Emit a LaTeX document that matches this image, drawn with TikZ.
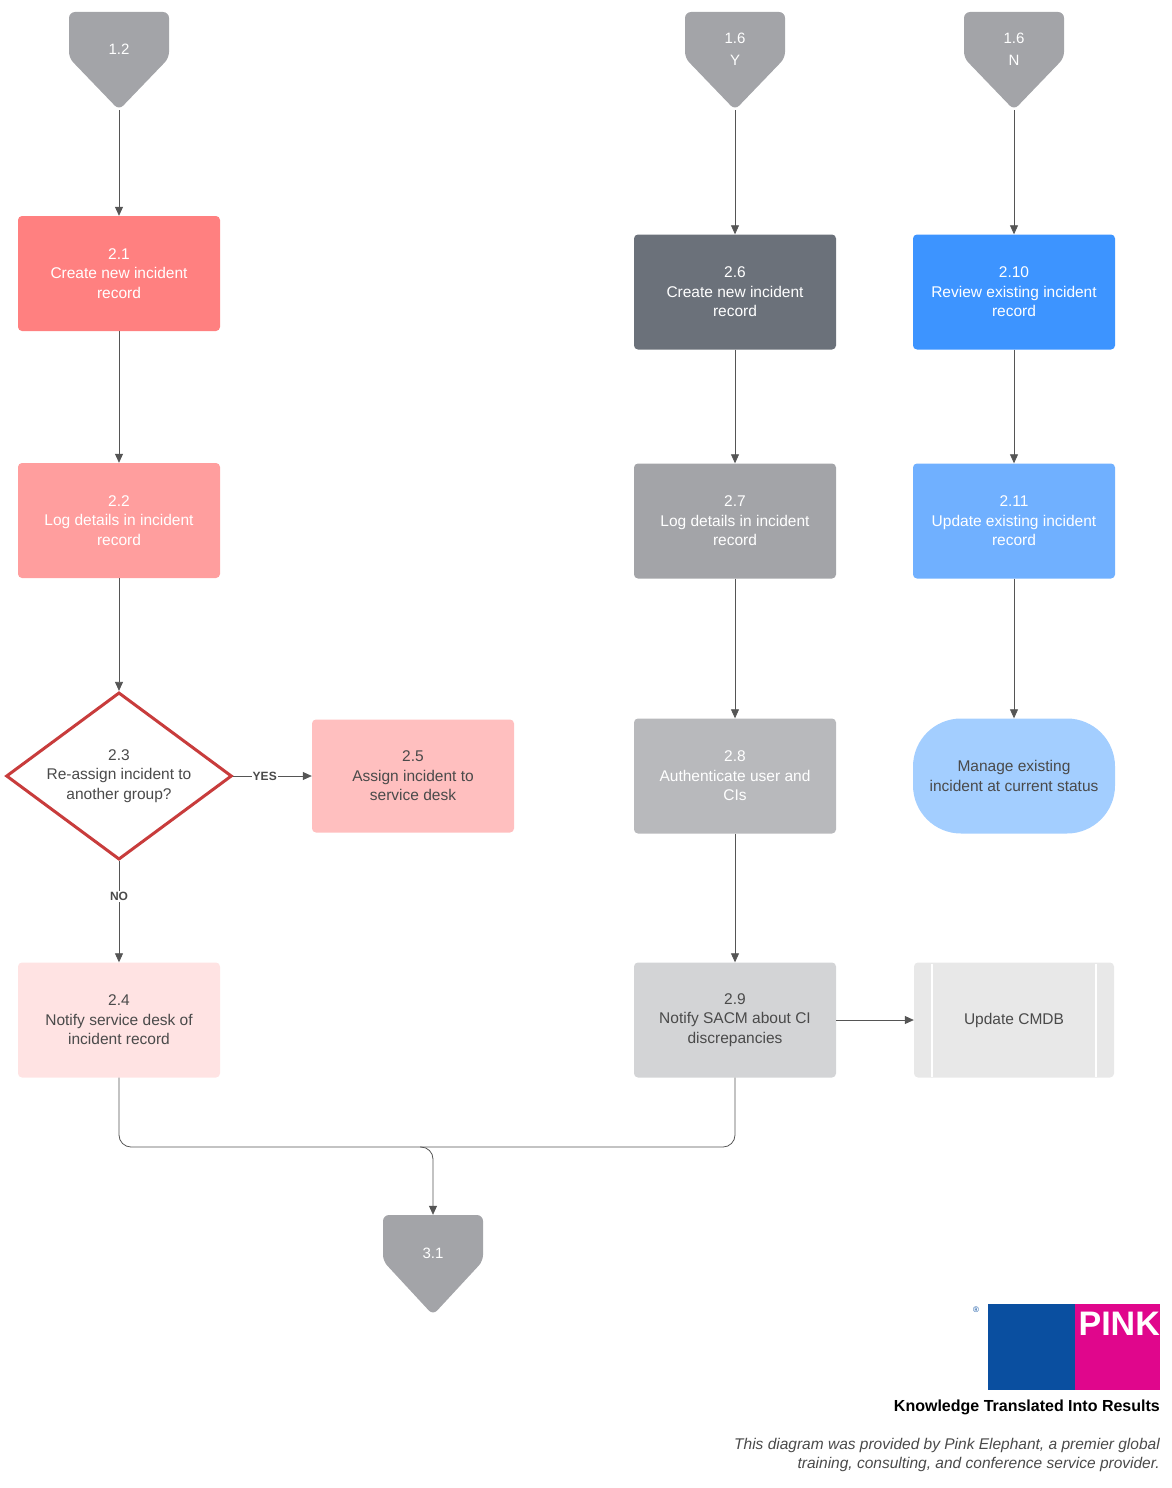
\documentclass[tikz,border=0pt]{standalone}
\usepackage{fontspec}
\setmainfont{Liberation Sans}
\usetikzlibrary{arrows.meta,positioning,shapes.geometric}
\definecolor{offgray}{HTML}{A3A4A8}
\definecolor{lineg}{HTML}{555555}
\definecolor{txtg}{HTML}{4A4A4A}
\definecolor{pinkel}{HTML}{E0068C}
\definecolor{blueel}{HTML}{0A4FA0}
\definecolor{c21}{HTML}{FF8080}
\definecolor{c22}{HTML}{FF9E9E}
\definecolor{c25}{HTML}{FFBFBF}
\definecolor{c24}{HTML}{FFE3E3}
\definecolor{c23}{HTML}{C83C3C}
\definecolor{c26}{HTML}{6B717A}
\definecolor{c27}{HTML}{A3A4A8}
\definecolor{c28}{HTML}{B8B9BC}
\definecolor{c29}{HTML}{D3D4D6}
\definecolor{c210}{HTML}{3D94FF}
\definecolor{c211}{HTML}{70B0FF}
\definecolor{cman}{HTML}{A3CEFF}
\definecolor{ccmdb}{HTML}{E8E8E8}
\tikzset{
  task/.style={rectangle, rounded corners=4pt, minimum width=202pt, minimum height=115pt,
    align=center, font=\fontsize{15.5}{19.5}\selectfont, text=white},
  offpage/.style={rectangle, minimum width=100pt, minimum height=98pt, inner sep=0pt,
    align=center, text=white, font=\fontsize{15}{22}\selectfont,
    path picture={\fill[offgray, rounded corners=6pt]
      (path picture bounding box.north west) -- (path picture bounding box.north east)
      -- ([yshift=-46pt]path picture bounding box.north east)
      -- (path picture bounding box.south)
      -- ([yshift=-46pt]path picture bounding box.north west) -- cycle;}},
  flow/.style={draw=lineg, line width=0.8pt, -{Triangle[length=9pt,width=8pt]}},
  lbl/.style={font=\bfseries\fontsize{12}{13}\selectfont, text=txtg, fill=white, inner sep=1pt}
}
\begin{document}
\begin{tikzpicture}[x=1pt,y=-1pt]
\useasboundingbox (0,0) rectangle (1172,1488);

% off-page references
\node[offpage, text depth=24pt] (p12) at (119,61) {1.2};
\node[offpage, text depth=24pt] (p16y) at (735,61) {1.6\\Y};
\node[offpage, text depth=24pt] (p16n) at (1014,61) {1.6\\N};
\node[offpage, minimum height=100pt, text depth=24pt] (p31) at (433,1265) {3.1};

% left column
\node[diamond, aspect=1.35, draw=c23, line width=3pt, fill=white,
  inner sep=2pt, align=center, text=txtg,
  font=\fontsize{15.5}{19.5}\selectfont] (n23) at (119,776) {2.3\\Re-assign incident to\\another group?};
\node[task, fill=c21] (n21) at (119,273.5) {2.1\\Create new incident\\record};
\node[task, fill=c22] (n22) at (119,520.5) {2.2\\Log details in incident\\record};
\node[task, fill=c25, minimum height=113pt, text=txtg] (n25) at (413,776) {2.5\\Assign incident to\\service desk};
\node[task, fill=c24, text=txtg] (n24) at (119,1020) {2.4\\Notify service desk of\\incident record};

% middle column
\node[task, fill=c26] (n26) at (735,292) {2.6\\Create new incident\\record};
\node[task, fill=c27] (n27) at (735,521) {2.7\\Log details in incident\\record};
\node[task, fill=c28] (n28) at (735,776) {2.8\\Authenticate user and\\CIs};
\node[task, fill=c29, text=txtg] (n29) at (735,1020) {2.9\\Notify SACM about CI\\discrepancies};

% right column
\node[task, fill=c210] (n210) at (1014,292) {2.10\\Review existing incident\\record};
\node[task, fill=c211] (n211) at (1014,521) {2.11\\Update existing incident\\record};
\node[task, rounded corners=48pt, fill=cman, text=txtg] (nman) at (1014,776) {Manage existing\\incident at current status};
\node[task, minimum width=200pt, fill=ccmdb, text=txtg] (ncmdb) at (1014,1020) {Update CMDB};
\draw[white, line width=1.5pt] (932,964) -- (932,1077) (1096,964) -- (1096,1077);

% connectors
\draw[flow] (p12) -- (n21);
\draw[flow] (n21) -- (n22);
\draw[flow] (n22) -- (n23);
\draw[flow] (n23) -- node[lbl, pos=0.4] {YES} (n25);
\draw[flow] (n23) -- node[lbl, pos=0.35] {NO} (n24);
\draw[flow] (p16y) -- (n26);
\draw[flow] (n26) -- (n27);
\draw[flow] (n27) -- (n28);
\draw[flow] (n28) -- (n29);
\draw[flow] (n29) -- (ncmdb);
\draw[flow] (p16n) -- (n210);
\draw[flow] (n210) -- (n211);
\draw[flow] (n211) -- (nman);
\coordinate (merge) at (433,1147);
\draw[draw=lineg, line width=0.8pt, rounded corners=12pt] (n24.south) |- (merge) -| (n29.south);
\draw[flow, rounded corners=12pt] (420,1147) -| (p31.north);

% logo
\fill[blueel] (988,1304) rectangle (1075,1390);
\fill[pinkel] (1075,1304) rectangle (1160,1390);
\node[text=white, font=\bfseries\fontsize{34}{34}\selectfont, anchor=north east, inner sep=0pt] (pink) at (1160,1312) {PINK};
\node[text=blueel, font=\fontsize{8}{8}\selectfont, inner sep=0pt] (reg) at (976,1310) {®};
\node[font=\bfseries\fontsize{16}{16}\selectfont, anchor=east, inner sep=0pt] (slogan) at (1160,1407) {Knowledge Translated Into Results};
\node[font=\itshape\fontsize{15.5}{19}\selectfont, text=txtg, align=right, anchor=north east, inner sep=0pt] (credit) at (1160,1438)
  {This diagram was provided by Pink Elephant, a premier global\\training, consulting, and conference service provider.};
\end{tikzpicture}
\end{document}
